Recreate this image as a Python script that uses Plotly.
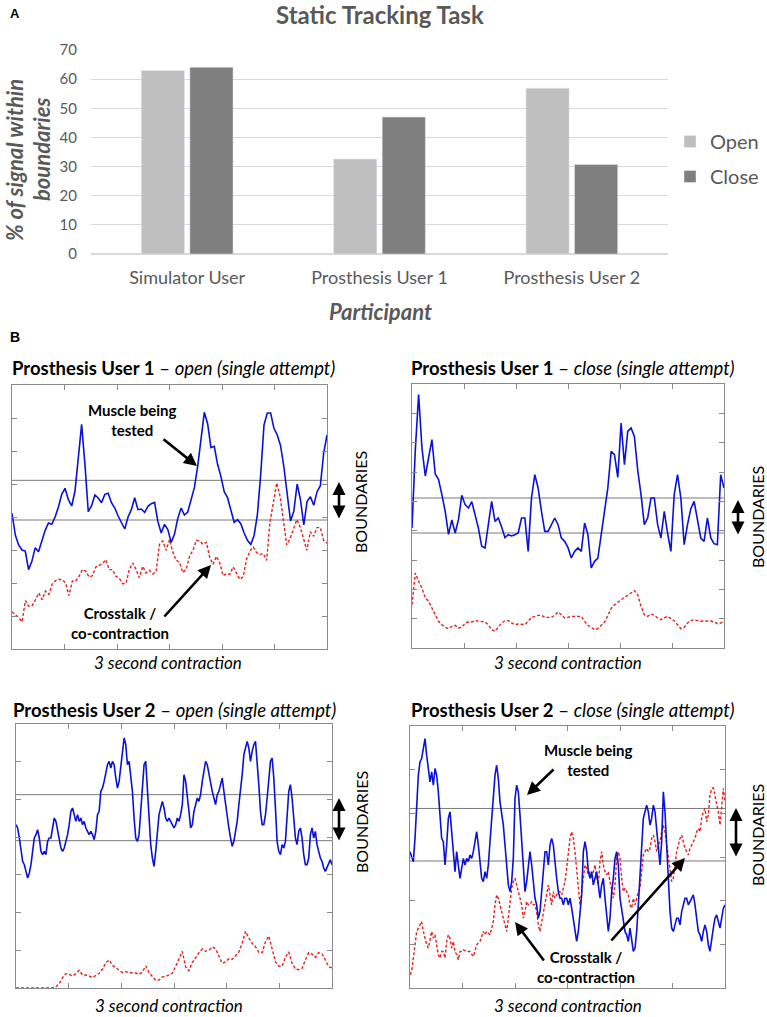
import numpy as np
import plotly.graph_objects as go

W, H = 767, 1017

# ---------------- Panel A data ----------------
participants = ["Simulator User", "Prosthesis User 1", "Prosthesis User 2"]
open_pct = [63.0, 32.6, 56.9]
close_pct = [64.1, 47.0, 30.7]
pct_ticks = [0, 10, 20, 30, 40, 50, 60, 70]

# ---------------- Panel B data (EMG envelopes, arbitrary units, 3 s) ----------------
duration_s = 3.0
time_ticks = [0.5, 1.0, 1.5, 2.0, 2.5]

pu1_open_muscle = [407, 342, 312, 297, 294, 238, 263, 304, 292, 323,
                   356, 378, 374, 396, 426, 464, 482, 448, 429, 474,
                   572, 674, 554, 412, 430, 462, 453, 439, 464, 467,
                   439, 423, 399, 377, 360, 396, 418, 454, 418, 420,
                   410, 428, 436, 440, 382, 348, 374, 358, 320, 344,
                   392, 423, 402, 411, 444, 484, 548, 626, 710, 676,
                   604, 608, 554, 518, 472, 454, 420, 380, 388, 376,
                   348, 326, 314, 340, 402, 523, 672, 708, 708, 662,
                   642, 610, 546, 462, 384, 414, 495, 448, 372, 443,
                   457, 431, 472, 490, 588, 642]
pu1_open_crosstalk = [112, 104, 94, 82, 145, 128, 130, 148, 168, 148,
                      174, 164, 195, 205, 209, 208, 198, 160, 204, 204,
                      218, 238, 234, 216, 220, 246, 252, 256, 268, 238,
                      238, 218, 212, 196, 197, 238, 258, 239, 214, 248,
                      228, 236, 225, 232, 314, 324, 296, 328, 290, 266,
                      260, 229, 240, 279, 296, 326, 324, 314, 320, 275,
                      254, 278, 258, 220, 226, 224, 246, 226, 209, 217,
                      270, 294, 306, 289, 284, 286, 266, 382, 446, 498,
                      458, 390, 312, 332, 362, 388, 366, 328, 296, 352,
                      338, 364, 364, 326, 317]
pu1_open_bounds = [387, 506]

pu1_close_muscle = [360, 595, 760, 600, 516, 570, 625, 522, 505, 460,
                    410, 341, 384, 345, 385, 458, 430, 420, 439, 400,
                    360, 305, 300, 370, 440, 380, 390, 363, 331, 340,
                    336, 340, 345, 390, 390, 290, 450, 520, 480, 410,
                    350, 350, 370, 390, 370, 330, 320, 301, 270, 290,
                    300, 290, 375, 341, 240, 260, 270, 347, 410, 480,
                    590, 580, 512, 675, 550, 650, 660, 635, 534, 460,
                    370, 390, 450, 450, 370, 330, 410, 345, 290, 460,
                    520, 450, 310, 370, 418, 440, 379, 330, 320, 390,
                    331, 313, 310, 520, 480]
pu1_close_crosstalk = [130, 225, 200, 180, 150, 140, 120, 100, 80, 70,
                       62, 58, 65, 68, 60, 62, 75, 78, 78, 82,
                       80, 78, 78, 70, 55, 50, 62, 75, 82, 82,
                       75, 70, 72, 70, 70, 80, 92, 95, 98, 98,
                       92, 92, 92, 98, 108, 100, 90, 92, 95, 95,
                       95, 95, 80, 68, 62, 55, 58, 68, 78, 98,
                       118, 130, 138, 145, 152, 158, 165, 172, 160, 125,
                       100, 95, 102, 98, 90, 85, 90, 95, 88, 82,
                       70, 58, 62, 75, 82, 85, 82, 80, 80, 81,
                       81, 78, 73, 75, 80]
pu1_close_bounds = [345, 450]

pu2_open_muscle = [490, 480, 450, 410, 380, 370, 350, 330, 345, 370, 410, 450, 460, 475, 450,
                   410, 400, 410, 400, 440, 450, 450, 480, 510, 500, 470, 450, 420, 410, 420,
                   440, 460, 490, 530, 540, 520, 500, 520, 500, 510, 490, 500, 480, 470, 460,
                   470, 460, 445, 470, 520, 530, 590, 600, 620, 650, 670, 680, 660, 680, 670,
                   630, 600, 620, 660, 710, 750, 730, 670, 680, 640, 590, 510, 450, 440, 460,
                   530, 610, 670, 680, 590, 510, 430, 390, 365, 410, 470, 520, 540, 560, 540,
                   510, 500, 510, 500, 490, 480, 490, 510, 500, 520, 550, 640, 620, 580, 530,
                   480, 490, 530, 550, 570, 560, 580, 620, 650, 680, 670, 640, 620, 590, 570,
                   550, 580, 590, 610, 630, 590, 550, 520, 480, 450, 425, 440, 470, 500, 550,
                   590, 640, 700, 720, 740, 720, 680, 710, 730, 740, 680, 610, 530, 490, 490,
                   520, 570, 630, 680, 690, 630, 540, 440, 410, 400, 430, 420, 440, 520, 590,
                   610, 570, 510, 450, 430, 470, 480, 450, 400, 370, 370, 390, 460, 480, 450,
                   470, 430, 410, 390, 380, 360, 350, 360, 370, 385, 370]
pu2_open_crosstalk = [0, 0, 0, 0, 0, 0, 0, 0, 0, 0,
                      0, 0, 4, 13, 31, 43, 41, 36, 43, 53,
                      39, 39, 36, 31, 38, 44, 57, 76, 84, 68,
                      61, 52, 46, 49, 46, 45, 45, 41, 48, 66,
                      46, 36, 23, 24, 33, 35, 39, 44, 65, 86,
                      110, 63, 52, 76, 93, 106, 117, 110, 113, 123,
                      118, 94, 74, 78, 88, 86, 97, 108, 134, 170,
                      150, 134, 124, 107, 106, 139, 156, 118, 78, 66,
                      65, 93, 108, 74, 57, 55, 59, 84, 106, 102,
                      92, 106, 102, 84, 64, 60]
pu2_open_bounds = [442, 580]

pu2_close_muscle = [410, 395, 380, 450, 550, 640, 680, 690, 720, 750, 700, 650, 620, 650, 610,
                    660, 640, 590, 530, 450, 440, 370, 430, 510, 530, 470, 390, 350, 410, 360,
                    330, 360, 390, 370, 390, 380, 400, 390, 410, 440, 470, 430, 370, 330, 320,
                    350, 330, 370, 440, 510, 570, 640, 670, 630, 560, 520, 490, 430, 370, 310,
                    290, 320, 390, 570, 610, 590, 520, 440, 350, 290, 320, 370, 410, 370, 310,
                    270, 250, 210, 230, 290, 350, 410, 410, 370, 430, 450, 430, 370, 330, 290,
                    270, 270, 250, 270, 270, 250, 270, 240, 210, 180, 140, 170, 230, 280, 410,
                    440, 410, 350, 330, 350, 310, 330, 350, 310, 270, 310, 330, 270, 210, 170,
                    210, 290, 330, 390, 410, 370, 270, 240, 210, 170, 160, 140, 180, 140, 110,
                    120, 170, 250, 350, 430, 510, 530, 550, 530, 490, 510, 550, 530, 480, 410,
                    370, 440, 590, 530, 430, 350, 230, 180, 170, 190, 210, 210, 190, 230, 250,
                    270, 270, 250, 260, 270, 280, 250, 210, 170, 160, 140, 170, 190, 170, 130,
                    110, 150, 180, 210, 220, 200, 180, 210, 240, 250]
pu2_close_crosstalk = [40, 50, 90, 140, 170, 180, 190, 200, 170, 150, 130, 120, 150, 170, 150,
                       160, 130, 100, 90, 110, 110, 90, 140, 160, 150, 120, 140, 110, 100, 85,
                       110, 110, 115, 112, 110, 110, 110, 102, 95, 112, 130, 135, 140, 155, 170,
                       160, 170, 165, 160, 180, 200, 250, 280, 270, 250, 230, 210, 190, 170, 210,
                       250, 300, 320, 330, 310, 290, 270, 250, 210, 230, 260, 250, 250, 260, 250,
                       250, 230, 190, 170, 200, 230, 250, 290, 310, 280, 250, 290, 270, 280, 290,
                       290, 280, 300, 320, 360, 410, 450, 470, 450, 410, 350, 290, 250, 290, 340,
                       370, 360, 340, 350, 330, 350, 370, 330, 310, 380, 410, 370, 350, 340, 350,
                       320, 290, 270, 310, 390, 410, 390, 330, 290, 300, 290, 280, 250, 240, 270,
                       250, 270, 290, 300, 350, 400, 410, 420, 410, 420, 450, 460, 440, 410, 430,
                       440, 470, 490, 470, 430, 390, 350, 320, 330, 370, 410, 430, 450, 460, 440,
                       420, 410, 400, 420, 430, 440, 450, 470, 480, 470, 510, 530, 540, 500, 520,
                       580, 600, 602, 580, 560, 530, 490, 550, 600, 560]
pu2_close_bounds = [382, 540]

panel_titles = [("Prosthesis User 1", "open (single attempt)"),
                ("Prosthesis User 1", "close (single attempt)"),
                ("Prosthesis User 2", "open (single attempt)"),
                ("Prosthesis User 2", "close (single attempt)")]

# ---------------- styling / layout ----------------
FONT = "Lato, 'Open Sans', sans-serif"
GRAY = "#595959"
BLUE = "#0b12d6"
RED = "#e3231f"
FRAME = "#8a8a8a"


def px(x):
    return x / W


def py(y):
    return 1 - y / H


fig = go.Figure()

# Panel A bars
fig.add_trace(go.Bar(x=participants, y=open_pct, name="Open", marker_color="#bfbfbf",
                     legendgroup="open", xaxis="x", yaxis="y"))
fig.add_trace(go.Bar(x=participants, y=close_pct, name="Close", marker_color="#7f7f7f",
                     legendgroup="close", xaxis="x", yaxis="y"))

# Panel B: (muscle, crosstalk, bounds, box px [x0,x1,y0,y1], y-range, n y-intervals)
panels = [
    (pu1_open_muscle, pu1_open_crosstalk, pu1_open_bounds, (12, 327, 385, 649), 792, 8),
    (pu1_close_muscle, pu1_close_crosstalk, pu1_close_bounds, (412, 724, 384, 648), 792, 9),
    (pu2_open_muscle, pu2_open_crosstalk, pu2_open_bounds, (16, 332, 724, 988), 792, 7),
    (pu2_close_muscle, pu2_close_crosstalk, pu2_close_bounds, (410, 725, 726, 988), 788, 6),
]

layout_axes = {}
shapes = []
annotations = []

for i, (mus, crs, bnd, box, ymax, nint) in enumerate(panels):
    k = i + 2
    xa, ya = f"x{k}", f"y{k}"
    t_m = np.linspace(0, duration_s, len(mus))
    t_c = np.linspace(0, duration_s, len(crs))
    fig.add_trace(go.Scatter(x=t_c, y=crs, mode="lines", showlegend=False,
                             line=dict(color=RED, width=1.4, dash="3px,2px"),
                             xaxis=xa, yaxis=ya, hoverinfo="skip"))
    fig.add_trace(go.Scatter(x=t_m, y=mus, mode="lines", showlegend=False,
                             line=dict(color=BLUE, width=1.6),
                             xaxis=xa, yaxis=ya, hoverinfo="skip"))
    x0, x1, y0, y1 = box
    step = ymax / nint
    layout_axes[f"xaxis{k}"] = dict(domain=[px(x0), px(x1)], range=[0, duration_s],
                                   tickvals=time_ticks, ticks="inside", ticklen=5,
                                   tickcolor=FRAME, showticklabels=False, showline=True,
                                   linecolor=FRAME, linewidth=1, mirror="ticks",
                                   showgrid=False, zeroline=False, anchor=ya, fixedrange=True)
    layout_axes[f"yaxis{k}"] = dict(domain=[py(y1), py(y0)], range=[0, ymax],
                                   tickvals=[step * j for j in range(1, nint)],
                                   ticks="inside", ticklen=5, tickcolor=FRAME,
                                   showticklabels=False, showline=True, linecolor=FRAME,
                                   linewidth=1, mirror="ticks", showgrid=False,
                                   zeroline=False, anchor=xa, fixedrange=True)
    for b in bnd:
        shapes.append(dict(type="line", xref=f"{xa} domain", x0=0, x1=1, yref=ya, y0=b, y1=b,
                           line=dict(color="#7a7a7a", width=1), layer="below"))

# Panel A axes
layout_axes["xaxis"] = dict(domain=[px(91), px(668)], anchor="y", showline=False,
                            ticks="", tickfont=dict(size=18, color=GRAY, family=FONT),
                            ticklabelstandoff=11, fixedrange=True)
layout_axes["yaxis"] = dict(domain=[py(254), py(50)], anchor="x", range=[0, 70.01],
                            tickvals=pct_ticks, showgrid=True, gridcolor="#d9d9d9",
                            gridwidth=1, zeroline=True, zerolinecolor="#d9d9d9",
                            showline=False, tickfont=dict(size=15, color=GRAY, family=FONT),
                            ticklabelstandoff=13, fixedrange=True)


def text(x, y, s, size, color="black", xanchor="center", yanchor="middle", angle=0, family=FONT):
    annotations.append(dict(x=px(x), y=py(y), xref="paper", yref="paper", text=s,
                            showarrow=False, xanchor=xanchor, yanchor=yanchor,
                            textangle=angle, font=dict(size=size, color=color, family=family)))


def arrow(tail, head, double=False, width=2.6):
    annotations.append(dict(x=px(head[0]), y=py(head[1]), xref="paper", yref="paper",
                            ax=tail[0] - head[0], ay=tail[1] - head[1], text="",
                            showarrow=True, arrowhead=2, arrowsize=1, arrowwidth=width,
                            arrowcolor="black", arrowside="end+start" if double else "end"))


# Panel A texts
text(8, 13, "<b>A</b>", 13, family="Liberation Sans", xanchor="left")
text(380, 14, "<b>Static Tracking Task</b>", 24, GRAY)
text(15, 160, "<b><i>% of signal within</i></b>", 22, GRAY, angle=-90)
text(42, 150, "<b><i>boundaries</i></b>", 22, GRAY, angle=-90)
text(380, 311, "<b><i>Participant</i></b>", 22, GRAY)

# Panel B texts
text(8, 337, "<b>B</b>", 14, family="Liberation Sans", xanchor="left")
title_pos = [(10, 368), (409, 368), (11, 710), (409, 710)]
contr_pos = [(168, 662), (568, 662), (169, 1005), (568, 1005)]
bnd_text_pos = [(361, 502), (757, 517), (361, 822), (757, 835)]
dbl_arrows = [((339, 520), (339, 482)), ((738, 536), (738, 500)),
              ((339, 842), (339, 798)), ((736, 858), (736, 808))]
for (who, what), tp, cp, bp, da in zip(panel_titles, title_pos, contr_pos, bnd_text_pos, dbl_arrows):
    text(tp[0], tp[1], f"<b>{who}</b> – <i>{what}</i>", 18.5, xanchor="left")
    text(cp[0], cp[1], "<i>3 second contraction</i>", 17)
    text(bp[0], bp[1], "BOUNDARIES", 16, angle=-90)
    arrow(da[0], da[1], double=True, width=2.6)

# callouts
text(132, 420, "<b>Muscle being<br>tested</b>", 15)
arrow((162, 438), (197, 466))
text(120, 623, "<b>Crosstalk /<br>co-contraction</b>", 15)
arrow((163, 618), (211, 565))
text(588, 760, "<b>Muscle being<br>tested</b>", 15)
arrow((555, 768), (527, 795))
text(586, 967, "<b>Crosstalk /<br>co-contraction</b>", 15)
arrow((545, 962), (515, 922))
arrow((610, 942), (685, 858))

fig.update_layout(
    width=W, height=H, margin=dict(l=0, r=0, t=0, b=0, autoexpand=False),
    paper_bgcolor="white", plot_bgcolor="white",
    font=dict(family=FONT, color="black"),
    barmode="group", bargap=0.495, bargroupgap=0.11,
    showlegend=True,
    legend=dict(x=px(670), y=py(122), xanchor="left", yanchor="top",
                font=dict(size=20, color=GRAY, family=FONT), tracegroupgap=6,
                traceorder="grouped", bgcolor="rgba(0,0,0,0)", itemwidth=30),
    shapes=shapes, annotations=annotations,
    **layout_axes,
)

fig.write_html("out.html", config={"displayModeBar": False},
               post_script="document.body.style.margin='0';document.body.style.overflow='hidden';")
